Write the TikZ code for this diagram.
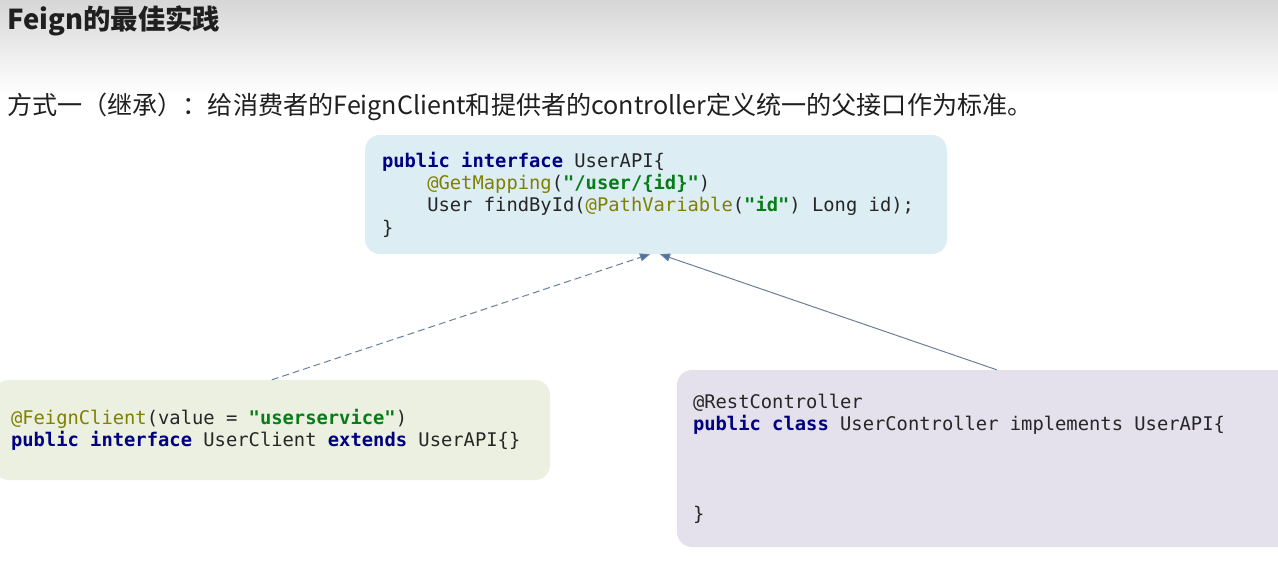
\documentclass[tikz,border=0pt]{standalone}
\usepackage{fontspec}
\setmainfont{Noto Sans CJK SC}
\newfontfamily\codefont{DejaVu Sans Mono}
\usetikzlibrary{arrows.meta, positioning}

\definecolor{kwblue}{HTML}{000080}
\definecolor{annolive}{HTML}{808000}
\definecolor{strgreen}{HTML}{067D17}
\definecolor{apifill}{HTML}{DCEDF4}
\definecolor{clientfill}{HTML}{EBF0E0}
\definecolor{ctrlfill}{HTML}{E4E1EC}
\definecolor{linkblue}{HTML}{4A72A8}
\definecolor{linkgray}{HTML}{6A7F9A}

\newcommand{\codekw}[1]{\textcolor{kwblue}{\bfseries #1}}
\newcommand{\codeann}[1]{\textcolor{annolive}{#1}}
\newcommand{\codestr}[1]{\textcolor{strgreen}{\bfseries #1}}
\newcommand{\codeind}{\phantom{xxxx}}
\newcommand{\codespaces}{\spaceskip=0.602em\relax\xspaceskip=0.602em\relax}

\begin{document}
\begin{tikzpicture}[
    x=1pt, y=-1pt,
    codebox/.style={rounded corners=15, align=left, inner xsep=17, inner ysep=0,
                    font=\codefont\fontsize{18.8}{22.4}\selectfont, text=black!85,
                    execute at begin node=\codespaces},
    apibox/.style={codebox, fill=apifill, minimum width=582, minimum height=119, text width=548},
    clientbox/.style={codebox, fill=clientfill, minimum width=556, minimum height=100, text width=522},
    ctrlbox/.style={codebox, fill=ctrlfill, inner xsep=16, minimum width=616, minimum height=177, text width=584},
    link/.style={line width=1, draw=linkgray},
    dep/.style={link, dashed, dash pattern=on 7pt off 4pt},
    impl/.style={link}
]
\useasboundingbox (0,0) rectangle (1278,560);
\shade[top color=black!16, bottom color=white] (0,0) rectangle (1278,95);

\node[anchor=west, inner sep=0, text=black!88, font=\bfseries\fontsize{27.4}{32}\selectfont] (title) at (7,21) {Feign的最佳实践};
\node[anchor=west, inner sep=0, text=black!88, font=\fontsize{25.1}{30}\selectfont] (intro) at (7,107)
  {方式一（继承）：给消费者的FeignClient和提供者的controller定义统一的父接口作为标准。};

\node[apibox] (api) at (656,194.5) {%
  \codekw{public} \codekw{interface} UserAPI\{\\
  \codeind\codeann{@GetMapping}(\codestr{"/user/\{id\}"})\\
  \codeind User findById(\codeann{@PathVariable}(\codestr{"id"}) Long id);\\
  \}};

\node[clientbox] (feign) at (272,430) {%
  \codeann{@FeignClient}(value = \codestr{"userservice"})\\
  \codekw{public} \codekw{interface} UserClient \codekw{extends} UserAPI\{\}};

\node[ctrlbox] (ctrl) at (985,458.5) {%
  @RestController\\
  \codekw{public} \codekw{class} UserController implements UserAPI\{\\
  ~\\
  ~\\
  ~\\
  \}};

\draw[dep, -{Triangle[length=10,width=8,fill=linkblue]}] ([xshift=278]feign.north west) -- ([xshift=-6]api.south);
\draw[impl, -{Triangle[length=10,width=8,fill=linkblue]}] ([xshift=320]ctrl.north west) -- ([xshift=4]api.south);
\end{tikzpicture}
\end{document}
